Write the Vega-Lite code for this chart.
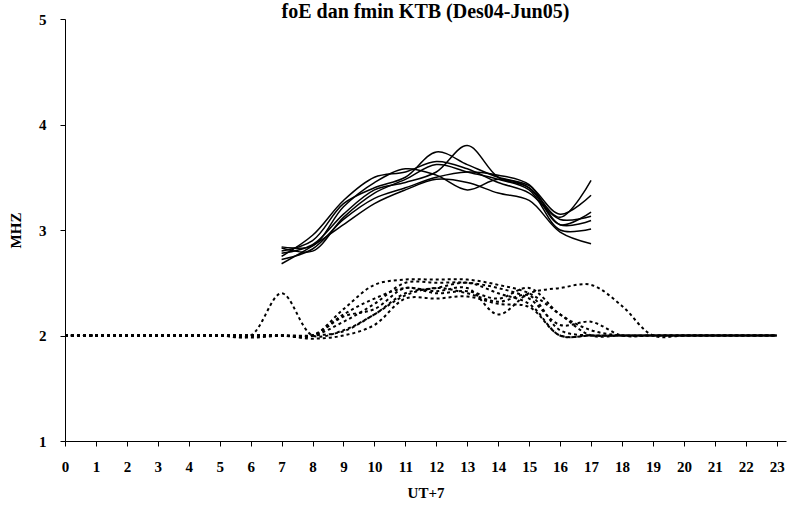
{
  "$schema": "https://vega.github.io/schema/vega-lite/v6.json",
  "width": 721,
  "height": 422,
  "autosize": {"type": "none"},
  "padding": {"left": 65, "top": 19, "right": 9, "bottom": 66},
  "background": "white",
  "config": {
    "view": {"stroke": null},
    "font": "Liberation Serif",
    "axis": {
      "grid": false,
      "domainColor": "black",
      "tickColor": "black",
      "labelColor": "black",
      "titleColor": "black",
      "labelFont": "Liberation Serif",
      "titleFont": "Liberation Serif",
      "labelFontWeight": "bold",
      "titleFontWeight": "bold",
      "labelFontSize": 15,
      "titleFontSize": 15,
      "tickSize": 5,
      "domainWidth": 1,
      "tickWidth": 1
    }
  },
  "title": {
    "text": "foE dan fmin KTB (Des04-Jun05)",
    "font": "Liberation Serif",
    "fontSize": 20,
    "fontWeight": "bold",
    "color": "black",
    "anchor": "middle",
    "offset": -10
  },
  "datasets": {
    "foe": [
      {"h": 7, "a": 2.84, "b": 2.80, "c": 2.78, "d": 2.75, "e": 2.72, "f": 2.83, "g": 2.68},
      {"h": 8, "a": 2.85, "b": 2.90, "c": 2.86, "d": 2.95, "e": 2.82, "f": 2.80, "g": 2.85},
      {"h": 9, "a": 3.22, "b": 3.25, "c": 3.15, "d": 3.28, "e": 3.10, "f": 3.12, "g": 3.05},
      {"h": 10, "a": 3.45, "b": 3.40, "c": 3.38, "d": 3.50, "e": 3.30, "f": 3.35, "g": 3.25},
      {"h": 11, "a": 3.58, "b": 3.50, "c": 3.45, "d": 3.55, "e": 3.40, "f": 3.48, "g": 3.38},
      {"h": 12, "a": 3.52, "b": 3.74, "c": 3.55, "d": 3.65, "e": 3.50, "f": 3.62, "g": 3.48},
      {"h": 13, "a": 3.38, "b": 3.62, "c": 3.80, "d": 3.58, "e": 3.55, "f": 3.55, "g": 3.45},
      {"h": 14, "a": 3.48, "b": 3.50, "c": 3.50, "d": 3.45, "e": 3.52, "f": 3.48, "g": 3.35},
      {"h": 15, "a": 3.40, "b": 3.42, "c": 3.40, "d": 3.35, "e": 3.43, "f": 3.38, "g": 3.28},
      {"h": 16, "a": 3.12, "b": 3.15, "c": 3.05, "d": 3.10, "e": 3.05, "f": 3.00, "g": 2.98},
      {"h": 17, "a": 3.47, "b": 3.33, "c": 3.17, "d": 3.13, "e": 3.09, "f": 3.01, "g": 2.87}
    ],
    "fmin": [
      {"h": 0, "a": 2, "b": 2, "c": 2, "d": 2, "e": 2, "f": 2, "g": 2},
      {"h": 1, "a": 2, "b": 2, "c": 2, "d": 2, "e": 2, "f": 2, "g": 2},
      {"h": 2, "a": 2, "b": 2, "c": 2, "d": 2, "e": 2, "f": 2, "g": 2},
      {"h": 3, "a": 2, "b": 2, "c": 2, "d": 2, "e": 2, "f": 2, "g": 2},
      {"h": 4, "a": 2, "b": 2, "c": 2, "d": 2, "e": 2, "f": 2, "g": 2},
      {"h": 5, "a": 2, "b": 2, "c": 2, "d": 2, "e": 2, "f": 2, "g": 2},
      {"h": 6, "a": 2, "b": 2, "c": 2, "d": 2, "e": 2, "f": 2, "g": 1.98},
      {"h": 7, "a": 2.4, "b": 2, "c": 2, "d": 2, "e": 2, "f": 2, "g": 2},
      {"h": 8, "a": 2, "b": 2, "c": 2, "d": 1.97, "e": 2, "f": 2, "g": 2},
      {"h": 9, "a": 2.05, "b": 2.2, "c": 2.25, "d": 2.0, "e": 2.13, "f": 2.18, "g": 2.04},
      {"h": 10, "a": 2.2, "b": 2.35, "c": 2.48, "d": 2.1, "e": 2.3, "f": 2.25, "g": 2.2},
      {"h": 11, "a": 2.4, "b": 2.45, "c": 2.53, "d": 2.35, "e": 2.5, "f": 2.45, "g": 2.38},
      {"h": 12, "a": 2.45, "b": 2.42, "c": 2.53, "d": 2.35, "e": 2.5, "f": 2.4, "g": 2.45},
      {"h": 13, "a": 2.5, "b": 2.45, "c": 2.53, "d": 2.37, "e": 2.5, "f": 2.42, "g": 2.4},
      {"h": 14, "a": 2.4, "b": 2.2, "c": 2.48, "d": 2.3, "e": 2.45, "f": 2.35, "g": 2.32},
      {"h": 15, "a": 2.3, "b": 2.4, "c": 2.4, "d": 2.27, "e": 2.35, "f": 2.45, "g": 2.38},
      {"h": 16, "a": 2.0, "b": 2.45, "c": 2.2, "d": 2.0, "e": 2.1, "f": 2.2, "g": 2.05},
      {"h": 17, "a": 2.0, "b": 2.48, "c": 2.0, "d": 2.0, "e": 2.13, "f": 2.05, "g": 2.0},
      {"h": 18, "a": 2, "b": 2.28, "c": 2, "d": 2, "e": 2, "f": 2, "g": 2},
      {"h": 19, "a": 2, "b": 2, "c": 2, "d": 2, "e": 2, "f": 2, "g": 2},
      {"h": 20, "a": 2, "b": 2, "c": 2, "d": 2, "e": 2, "f": 2, "g": 2},
      {"h": 21, "a": 2, "b": 2, "c": 2, "d": 2, "e": 2, "f": 2, "g": 2},
      {"h": 22, "a": 2, "b": 2, "c": 2, "d": 2, "e": 2, "f": 2, "g": 2},
      {"h": 23, "a": 2, "b": 2, "c": 2, "d": 2, "e": 2, "f": 2, "g": 2}
    ]
  },
  "encoding": {
    "x": {
      "field": "h",
      "type": "quantitative",
      "scale": {"domain": [0, 23.3], "nice": false, "zero": false},
      "axis": {
        "values": [0,1,2,3,4,5,6,7,8,9,10,11,12,13,14,15,16,17,18,19,20,21,22,23],
        "title": "UT+7",
        "labelPadding": 13,
        "titlePadding": 11,
        "labelFlush": false,
        "labelOverlap": false
      }
    },
    "y": {
      "field": "v",
      "type": "quantitative",
      "scale": {"domain": [1, 5], "nice": false, "zero": false},
      "axis": {
        "values": [1, 2, 3, 4, 5],
        "title": "MHZ",
        "labelPadding": 14,
        "titlePadding": 15
      }
    },
    "detail": {"field": "s", "type": "nominal"}
  },
  "layer": [
    {
      "data": {"name": "fmin"},
      "transform": [{"fold": ["a", "b", "c", "d", "e", "f", "g"], "as": ["s", "v"]}],
      "mark": {"type": "line", "color": "black", "strokeWidth": 2, "strokeDash": [3, 3], "interpolate": "catmull-rom"}
    },
    {
      "data": {"name": "foe"},
      "transform": [{"fold": ["a", "b", "c", "d", "e", "f", "g"], "as": ["s", "v"]}],
      "mark": {"type": "line", "color": "black", "strokeWidth": 1.5, "interpolate": "catmull-rom"}
    }
  ]
}
